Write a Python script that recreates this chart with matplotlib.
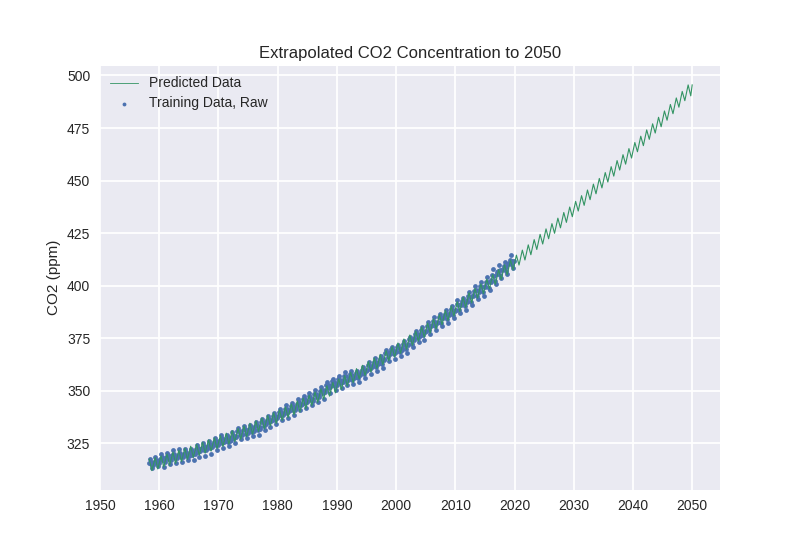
import numpy as np
import matplotlib
matplotlib.use("Agg")
import matplotlib.pyplot as plt

nan = float("nan")

# Training data, read per year at seven points of the seasonal cycle (ppm)
raw_years = list(range(1958, 2020))
raw_jan = [nan, 315.6, 316.4, 317.0, 317.9, 318.7, 319.4, 319.3, 320.4, 322.1,
           322.6, 324.0, 325.0, 326.2, 326.7, 328.5, 329.4, 330.6, 331.6, 332.7,
           334.9, 336.2, 337.9, 339.2, 340.9, 341.6, 343.8, 345.3, 346.0, 348.0,
           350.4, 352.9, 353.7, 355.0, 355.9, 356.7, 358.3, 359.9, 362.1, 363.2,
           365.3, 368.2, 369.1, 370.2, 372.3, 374.9, 377.0, 378.5, 381.4, 382.9,
           385.4, 386.9, 388.5, 391.3, 393.1, 395.6, 397.8, 400.0, 402.6, 406.4,
           408.0, 410.8]
raw_mar = [315.7, 316.5, 317.6, 318.5, 319.4, 319.4, 320.1, 320.3, 322.2, 322.9,
           323.7, 325.4, 326.7, 327.0, 328.0, 330.6, 331.2, 331.9, 333.2, 334.9,
           336.3, 337.9, 340.0, 341.4, 342.7, 343.9, 345.9, 347.4, 348.5, 350.0,
           352.8, 354.6, 355.7, 357.0, 357.9, 358.6, 359.9, 362.0, 363.8, 364.9,
           367.9, 369.8, 370.8, 372.4, 374.6, 376.8, 379.1, 380.8, 383.0, 384.9,
           386.7, 388.7, 391.3, 392.7, 394.9, 397.5, 399.8, 401.5, 404.9, 407.1,
           409.4, 412.0]
raw_may = [317.5, 318.3, 320.0, 320.6, 321.6, 322.3, 322.2, 322.2, 324.1, 324.9,
           325.9, 327.6, 328.9, 329.1, 330.3, 332.4, 333.1, 333.9, 334.9, 336.6,
           338.0, 339.3, 341.5, 343.0, 344.1, 345.9, 347.5, 348.7, 350.3, 351.8,
           354.2, 355.7, 357.0, 358.8, 359.4, 359.6, 361.5, 363.6, 365.4, 366.7,
           369.6, 371.0, 371.8, 373.6, 375.6, 378.5, 380.5, 382.5, 384.9, 386.5,
           388.5, 390.2, 393.3, 394.2, 396.8, 399.8, 401.9, 403.9, 407.7, 409.7,
           411.3, 414.7]
raw_jul = [315.9, 316.9, 318.6, 319.2, 320.0, 320.4, 320.9, 321.2, 322.9, 323.6,
           324.7, 326.3, 327.7, 328.0, 329.1, 331.0, 331.6, 332.5, 333.5, 335.3,
           336.7, 338.0, 340.0, 341.4, 342.7, 344.6, 346.0, 347.1, 348.6, 350.2,
           352.8, 354.1, 355.3, 356.9, 357.6, 358.1, 359.8, 361.9, 363.5, 364.7,
           368.0, 369.2, 370.3, 371.9, 374.1, 376.9, 378.5, 380.8, 382.9, 384.6,
           386.4, 388.2, 391.0, 392.3, 394.6, 397.7, 399.3, 401.5, 404.8, 407.3,
           408.9, 411.9]
raw_aug = [314.9, 315.7, 316.8, 317.3, 318.1, 318.6, 319.0, 319.3, 321.0, 321.7,
           322.8, 324.1, 325.3, 325.8, 327.5, 329.1, 329.4, 330.2, 331.3, 333.1,
           334.9, 336.2, 338.3, 339.6, 340.9, 343.2, 344.3, 345.4, 346.9, 348.7,
           351.3, 352.3, 353.6, 354.7, 355.2, 356.0, 357.9, 360.1, 361.5, 362.6,
           366.0, 367.4, 368.4, 369.9, 372.3, 375.0, 376.3, 378.9, 380.7, 382.4,
           384.2, 385.9, 388.5, 390.2, 392.4, 395.3, 397.0, 398.9, 402.3, 405.0,
           407.0, 409.9]
raw_oct = [313.3, 314.0, 313.8, 315.0, 315.5, 316.2, 316.8, 317.2, 318.4, 319.0,
           320.0, 321.6, 322.9, 323.6, 324.9, 326.9, 327.4, 328.6, 328.9, 331.1,
           332.7, 334.0, 336.0, 337.1, 338.6, 340.6, 341.8, 343.3, 344.5, 346.2,
           349.0, 350.2, 351.2, 352.9, 353.3, 354.2, 356.1, 358.1, 359.3, 360.8,
           364.1, 365.2, 366.5, 368.1, 370.6, 373.0, 374.2, 376.9, 378.9, 380.6,
           382.4, 384.4, 387.0, 388.6, 391.0, 393.5, 395.2, 398.0, 401.0, 403.4,
           405.6, 408.5]
raw_dec = [314.7, 315.7, 316.2, 317.0, 318.0, 318.7, 318.8, 319.7, 321.4, 321.9,
           323.3, 324.3, 325.5, 326.0, 327.8, 328.7, 329.9, 330.9, 332.0, 334.2,
           335.5, 337.2, 338.5, 340.2, 340.9, 343.0, 344.6, 345.3, 347.2, 349.6,
           352.2, 352.9, 354.3, 355.1, 356.0, 357.5, 359.2, 361.3, 362.5, 364.6,
           367.5, 368.4, 369.5, 371.6, 374.2, 376.2, 377.8, 380.7, 382.2, 384.6,
           386.2, 387.8, 390.6, 392.4, 394.9, 397.1, 399.2, 401.9, 405.6, 407.2,
           410.1, 411.8]

# Predicted curve, read per year at its seasonal maximum and minimum (ppm)
pred_years = list(range(1958, 2050))
pred_peak = [317.4, 318.2, 319.0, 319.9, 320.8, 321.7, 322.6, 323.6, 324.5, 325.5,
             326.6, 327.6, 328.7, 329.8, 331.0, 332.1, 333.3, 334.5, 335.7, 337.0,
             338.3, 339.6, 340.9, 342.3, 343.7, 345.1, 346.5, 347.9, 349.4, 350.9,
             352.4, 354.0, 355.6, 357.2, 358.8, 360.5, 362.1, 363.8, 365.6, 367.3,
             369.1, 370.9, 372.7, 374.6, 376.5, 378.4, 380.3, 382.2, 384.2, 386.2,
             388.2, 390.3, 392.4, 394.5, 396.6, 398.7, 400.9, 403.1, 405.3, 407.6,
             409.9, 412.2, 414.5, 416.9, 419.4, 421.9, 424.4, 427.0, 429.5, 432.1,
             434.8, 437.4, 440.1, 442.8, 445.5, 448.3, 451.0, 453.8, 456.6, 459.5,
             462.3, 465.2, 468.1, 471.1, 474.1, 477.0, 480.1, 483.1, 486.2, 489.3,
             492.4, 495.5]
pred_trough = [312.0, 312.8, 313.7, 314.5, 315.4, 316.3, 317.3, 318.3, 319.2, 320.3,
               321.3, 322.4, 323.5, 324.6, 325.7, 326.9, 328.1, 329.3, 330.6, 331.8,
               333.1, 334.4, 335.8, 337.2, 338.5, 339.9, 341.4, 342.9, 344.4, 345.9,
               347.4, 349.0, 350.6, 352.2, 353.8, 355.5, 357.2, 358.9, 360.6, 362.4,
               364.2, 366.0, 367.8, 369.7, 371.6, 373.5, 375.4, 377.4, 379.4, 381.4,
               383.4, 385.5, 387.6, 389.7, 391.8, 394.0, 396.2, 398.4, 400.6, 402.9,
               405.1, 407.4, 409.8, 412.2, 414.7, 417.2, 419.8, 422.3, 424.9, 427.5,
               430.1, 432.8, 435.5, 438.2, 440.9, 443.7, 446.5, 449.3, 452.1, 455.0,
               457.8, 460.7, 463.7, 466.6, 469.6, 472.6, 475.6, 478.7, 481.8, 484.9,
               488.0, 490.3]
pred_end_date = 2050.0
pred_end_value = 495.5

x_ticks = [1950, 1960, 1970, 1980, 1990, 2000, 2010, 2020, 2030, 2040, 2050]
y_ticks = [325, 350, 375, 400, 425, 450, 475, 500]

plt.rcParams["font.family"] = ["Liberation Sans", "DejaVu Sans"]

fig, ax = plt.subplots(figsize=(8, 5.5), dpi=100)
fig.patch.set_facecolor("white")
ax.set_facecolor("#EAEAF2")
ax.grid(True, color="white", linewidth=1.25)
ax.set_axisbelow(True)
for s in ax.spines.values():
    s.set_visible(False)
ax.tick_params(length=0, labelsize=10, colors="#262626", pad=7)

# Date of each reading within its year
raw_fracs = (0.04, 0.21, 0.37, 0.54, 0.62, 0.79, 0.96)
raw_lists = (raw_jan, raw_mar, raw_may, raw_jul, raw_aug, raw_oct, raw_dec)
raw_x = np.concatenate([np.array(raw_years) + f for f in raw_fracs])
raw_y = np.concatenate(raw_lists)
pred_x = np.ravel(np.column_stack([np.array(pred_years) + 0.32, np.array(pred_years) + 0.76]))
pred_y = np.ravel(np.column_stack([pred_peak, pred_trough]))
pred_x = np.append(pred_x, pred_end_date)
pred_y = np.append(pred_y, pred_end_value)

line, = ax.plot(pred_x, pred_y, color="#339463", linewidth=0.8, label="Predicted Data", zorder=3)
pts = ax.scatter(raw_x, raw_y, s=12, color="#4C72B0", linewidths=0, label="Training Data, Raw", zorder=2)

ax.set_xlim(1950, 2054.7)
ax.set_ylim(303, 504.5)
ax.set_xticks(x_ticks)
ax.set_yticks(y_ticks)
ax.set_ylabel("CO2 (ppm)", fontsize=11, color="#262626")
ax.set_title("Extrapolated CO2 Concentration to 2050", fontsize=12, color="#262626")

leg = ax.legend([line, pts], ["Predicted Data", "Training Data, Raw"], loc="upper left",
                frameon=False, fontsize=10, scatterpoints=1, markerscale=0.8,
                labelspacing=0.42, borderaxespad=0.35)
leg.get_lines()[0].set_linewidth(0.6)
for t in leg.get_texts():
    t.set_color("#262626")

fig.savefig("out.png", dpi=100)
